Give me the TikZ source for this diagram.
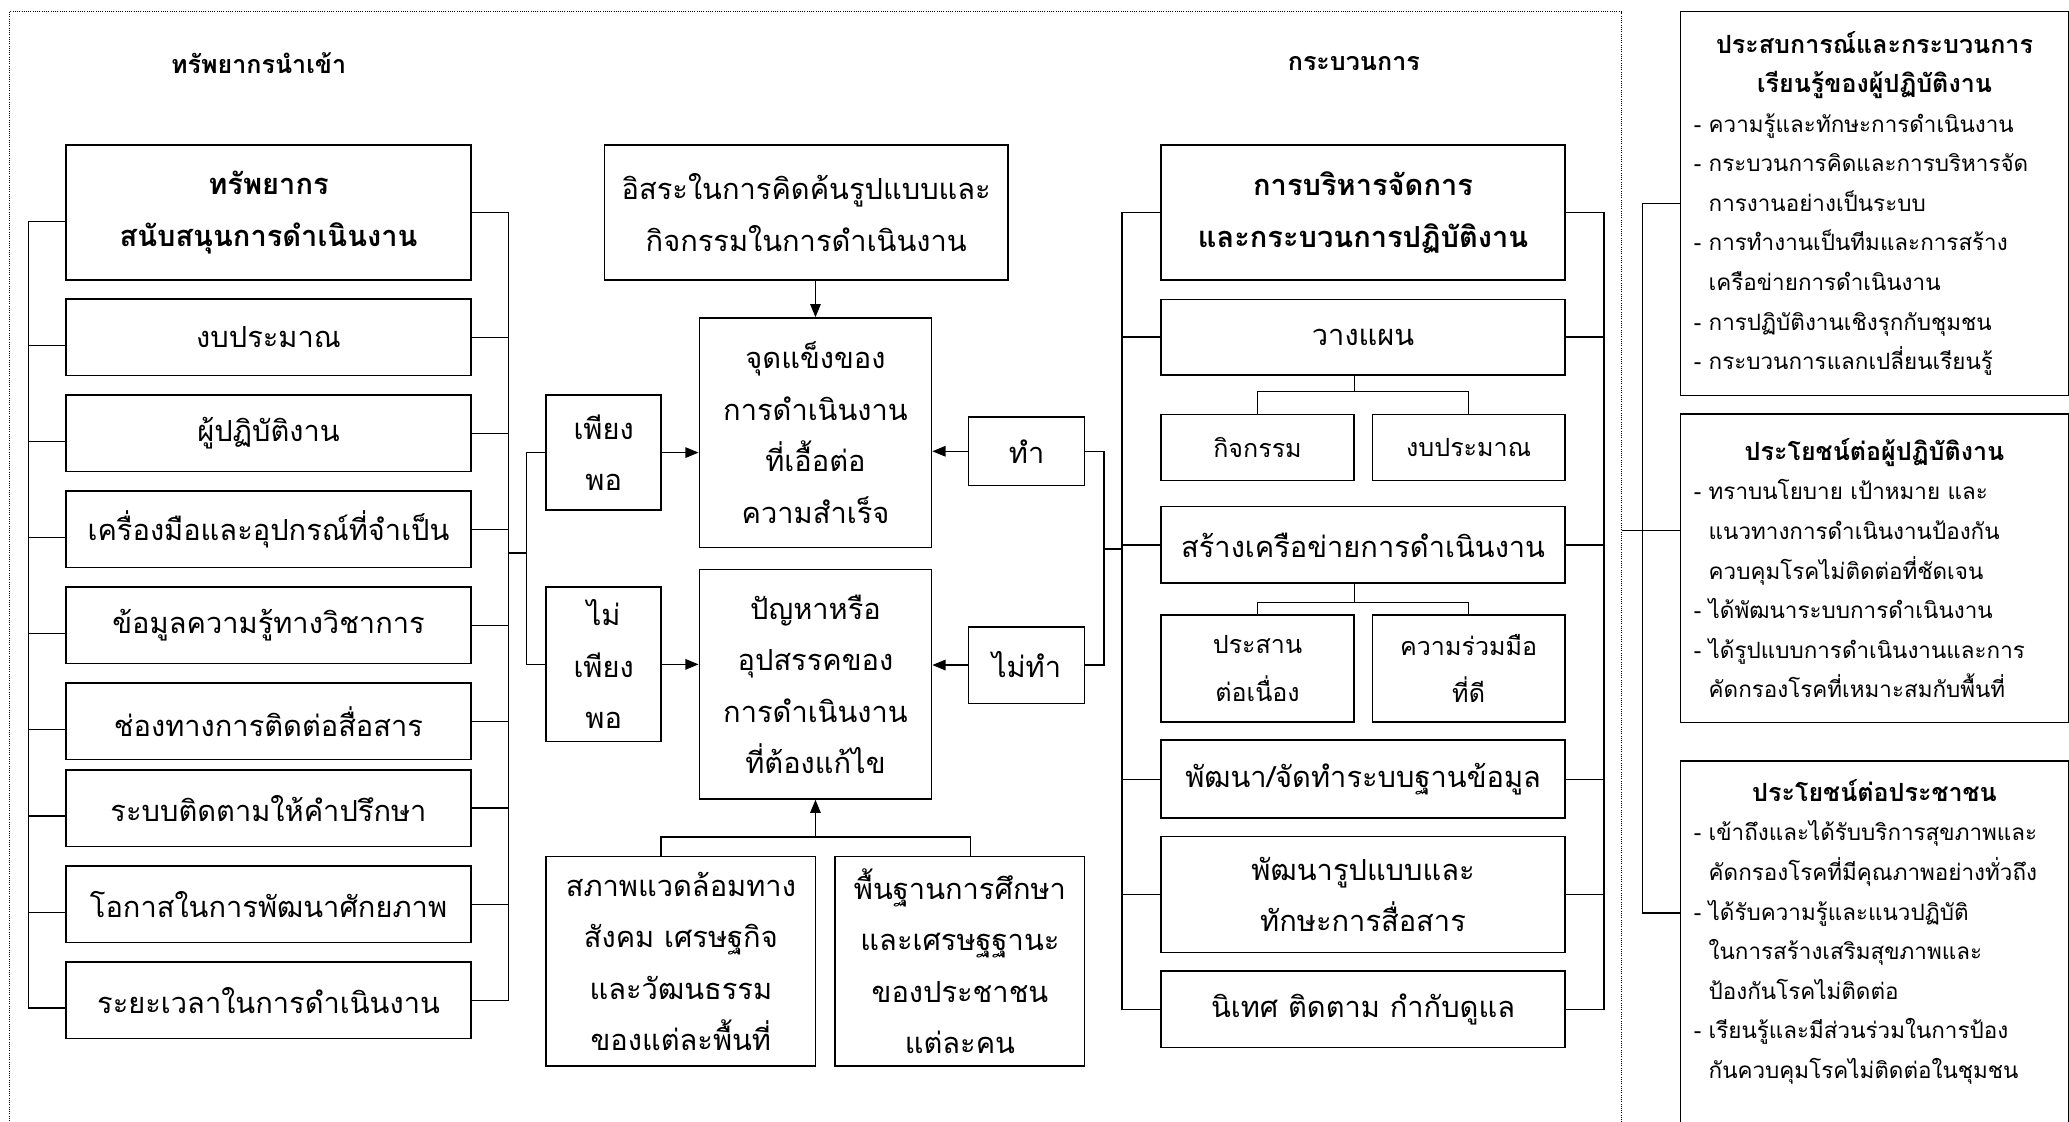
\documentclass[tikz,border=0pt]{standalone}
\usepackage{fontspec}
\setmainfont[Script=Thai]{Loma}
\usetikzlibrary{arrows.meta,positioning,calc}
\newcommand{\mainsz}{\fontsize{22}{39}\selectfont}
\newcommand{\subsz}{\fontsize{19}{36}\selectfont}
\newcommand{\sidesz}{\fontsize{17}{30}\selectfont}
\newcommand{\headsz}{\fontsize{19}{24}\selectfont}

\begin{document}
\begin{tikzpicture}[x=1pt,y=-1pt,
box/.style={draw, line width=1.2pt, align=center, inner sep=0pt, font=\mainsz},
lbox/.style={box, minimum width=307pt, minimum height=58pt},
pbox/.style={box, minimum width=306pt},
sbox/.style={box, minimum width=146pt, font=\subsz},
side/.style={draw, line width=1.2pt, align=left, anchor=north west, text width=274pt, inner xsep=10pt, inner ysep=8pt, font=\sidesz},
sidehead/.style={font=\fontsize{19}{30}\selectfont\bfseries},
link/.style={line width=1pt},
arr/.style={line width=1pt, -{Triangle[length=10pt,width=8pt]}}]
\useasboundingbox (0,0) rectangle (1568,850);
\clip (0,0) rectangle (1568,850);
\draw[densely dotted, line width=0.7pt] (7,9) rectangle (1229,900);

\node[font=\headsz\bfseries] (inTitle) at (196,48) {ทรัพยากรนำเข้า};
\node[font=\headsz\bfseries] (procTitle) at (1026,48) {กระบวนการ};

% input resources
\node[lbox, minimum height=102pt, font=\mainsz\bfseries] (supp) at (203.5,161) {ทรัพยากร\\สนับสนุนการดำเนินงาน};
\node[lbox] (budget) at (203.5,255.7) {งบประมาณ};
\node[lbox] (staff) at (203.5,328.4) {ผู้ปฏิบัติงาน};
\node[lbox] (tools) at (203.5,401.2) {เครื่องมือและอุปกรณ์ที่จำเป็น};
\node[lbox] (info) at (203.5,473.9) {ข้อมูลความรู้ทางวิชาการ};
\node[lbox] (chan) at (203.5,546.7) {ช่องทางการติดต่อสื่อสาร};
\node[lbox] (monit) at (203.5,612.4) {ระบบติดตามให้คำปรึกษา};
\node[lbox] (chance) at (203.5,685.4) {โอกาสในการพัฒนาศักยภาพ};
\node[lbox] (dur) at (203.5,758) {ระยะเวลาในการดำเนินงาน};

\draw[link] ([yshift=-7pt]supp.west) -- ++(-28,0) |- ([yshift=-6pt]dur.west);
\draw[link] ([yshift=-6pt]budget.west) -- ++(-28,0);
\draw[link] ([yshift=-6pt]staff.west) -- ++(-28,0);
\draw[link] ([yshift=-6pt]tools.west) -- ++(-28,0);
\draw[link] ([yshift=-6pt]info.west) -- ++(-28,0);
\draw[link] ([yshift=-6pt]chan.west) -- ++(-28,0);
\draw[link] ([yshift=-6pt]monit.west) -- ++(-28,0);
\draw[link] ([yshift=-6pt]chance.west) -- ++(-28,0);
\draw[link] (supp.east) -- ++(28,0) |- (dur.east);
\draw[link] (budget.east) -- ++(28,0);
\draw[link] (staff.east) -- ++(28,0);
\draw[link] (tools.east) -- ++(28,0);
\draw[link] (info.east) -- ++(28,0);
\draw[link] (chan.east) -- ++(28,0);
\draw[link] (monit.east) -- ++(28,0);
\draw[link] (chance.east) -- ++(28,0);

% middle
\node[box, minimum width=306pt, minimum height=102pt] (free) at (611,161) {อิสระในการคิดค้นรูปแบบและ\\กิจกรรมในการดำเนินงาน};
\node[box, minimum width=176pt, minimum height=174pt] (strength) at (618,328) {จุดแข็งของ\\การดำเนินงาน\\ที่เอื้อต่อ\\ความสำเร็จ};
\node[box, minimum width=176pt, minimum height=174pt] (problem) at (618,518.5) {ปัญหาหรือ\\อุปสรรคของ\\การดำเนินงาน\\ที่ต้องแก้ไข};
\node[box, minimum width=87pt, minimum height=87pt] (enough) at (457.5,343) {เพียง\\พอ};
\node[box, minimum width=87pt, minimum height=117pt] (short) at (457.5,503.5) {ไม่\\เพียง\\พอ};
\node[box, minimum width=88pt, minimum height=52pt] (doit) at (778,342) {ทำ};
\node[box, minimum width=88pt, minimum height=58pt] (notdo) at (778,504) {ไม่ทำ};
\node[box, minimum width=204pt, minimum height=159pt] (env) at (516,728.5) {สภาพแวดล้อมทาง\\สังคม เศรษฐกิจ\\และวัฒนธรรม\\ของแต่ละพื้นที่};
\node[box, minimum width=189pt, minimum height=159pt] (base) at (727.5,728.5) {พื้นฐานการศึกษา\\และเศรษฐฐานะ\\ของประชาชน\\แต่ละคน};

\coordinate (inJoin) at (385,419);
\draw[link] (inJoin) -- ++(14,0) coordinate (inSplit);
\draw[link] (enough.west) -| (inSplit) |- (short.west);
\draw[arr] (enough.east) -- (enough.east -| strength.west);
\draw[arr] (short.east) -- (short.east -| problem.west);
\draw[arr] (doit.west) -- (doit.west -| strength.east);
\draw[arr] (notdo.west) -- (notdo.west -| problem.east);
\draw[arr] (free.south -| strength.north) -- (strength.north);
\draw[link] ([xshift=-15pt]env.north) -- ++(0,-14) -| ([xshift=8pt]base.north);
\draw[arr] ([yshift=14pt]env.north -| problem.south) -- (problem.south);

% process
\node[pbox, minimum height=102pt, font=\mainsz\bfseries] (mgmt) at (1033,161) {การบริหารจัดการ\\และกระบวนการปฏิบัติงาน};
\node[pbox, minimum height=57pt] (plan) at (1033,255.5) {วางแผน};
\node[sbox, minimum height=50pt] (act) at (953,339) {กิจกรรม};
\node[sbox, minimum height=50pt] (pbudget) at (1113,339) {งบประมาณ};
\node[pbox, minimum height=58pt] (net) at (1033,413) {สร้างเครือข่ายการดำเนินงาน};
\node[sbox, minimum height=81pt] (coord) at (953,506.5) {ประสาน\\ต่อเนื่อง};
\node[sbox, minimum height=81pt] (coop) at (1113,506.5) {ความร่วมมือ\\ที่ดี};
\node[pbox, minimum height=59pt] (db) at (1033,590.5) {พัฒนา/จัดทำระบบฐานข้อมูล};
\node[pbox, minimum height=88pt] (comm) at (1033,678) {พัฒนารูปแบบและ\\ทักษะการสื่อสาร};
\node[pbox, minimum height=58pt] (super) at (1033,765) {นิเทศ ติดตาม กำกับดูแล};

\draw[link] (doit.east) -- ++(14,0) |- (notdo.east);
\coordinate (doJoin) at (836,416);
\draw[link] (doJoin) -- ++(15,0);
\draw[link] (mgmt.west) -- ++(-29,0) |- (super.west);
\draw[link] (plan.west) -- ++(-29,0);
\draw[link] (net.west) -- ++(-29,0);
\draw[link] (db.west) -- ++(-29,0);
\draw[link] (comm.west) -- ++(-29,0);
\draw[link] (mgmt.east) -- ++(29,0) |- (super.east);
\draw[link] (plan.east) -- ++(29,0);
\draw[link] (net.east) -- ++(29,0);
\draw[link] (db.east) -- ++(29,0);
\draw[link] (comm.east) -- ++(29,0);
\draw[link] (plan.south -| act.east) -- ++(0,12) coordinate (planJ);
\draw[link] (act.north) |- (planJ) -| (pbudget.north);
\draw[link] (net.south -| coord.east) -- ++(0,14) coordinate (netJ);
\draw[link] (coord.north) |- (netJ) -| (coop.north);

% outcomes
\node[side, minimum height=291pt] (exp) at (1273,8) {{\centering\fontsize{19}{30}\selectfont\bfseries ประสบการณ์และกระบวนการ\\เรียนรู้ของผู้ปฏิบัติงาน\par}
-~ความรู้และทักษะการดำเนินงาน\\
-~กระบวนการคิดและการบริหารจัด\\
\phantom{-~}การงานอย่างเป็นระบบ\\
-~การทำงานเป็นทีมและการสร้าง\\
\phantom{-~}เครือข่ายการดำเนินงาน\\
-~การปฏิบัติงานเชิงรุกกับชุมชน\\
-~กระบวนการแลกเปลี่ยนเรียนรู้};
\node[side, minimum height=234pt] (benS) at (1273,313) {{\centering\fontsize{19}{30}\selectfont\bfseries ประโยชน์ต่อผู้ปฏิบัติงาน\par}
-~ทราบนโยบาย เป้าหมาย และ\\
\phantom{-~}แนวทางการดำเนินงานป้องกัน\\
\phantom{-~}ควบคุมโรคไม่ติดต่อที่ชัดเจน\\
-~ได้พัฒนาระบบการดำเนินงาน\\
-~ได้รูปแบบการดำเนินงานและการ\\
\phantom{-~}คัดกรองโรคที่เหมาะสมกับพื้นที่};
\node[side, inner ysep=14pt, text depth=280pt] (benP) at (1273,576) {{\centering\fontsize{19}{30}\selectfont\bfseries ประโยชน์ต่อประชาชน\par}
-~เข้าถึงและได้รับบริการสุขภาพและ\\
\phantom{-~}คัดกรองโรคที่มีคุณภาพอย่างทั่วถึง\\
-~ได้รับความรู้และแนวปฏิบัติ\\
\phantom{-~}ในการสร้างเสริมสุขภาพและ\\
\phantom{-~}ป้องกันโรคไม่ติดต่อ\\
-~เรียนรู้และมีส่วนร่วมในการป้อง\\
\phantom{-~}กันควบคุมโรคไม่ติดต่อในชุมชน};

\coordinate (frameE) at (1229,402);
\draw[link] (frameE) -- (frameE -| benS.west);
\draw[link] (exp.west) -- ++(-28,0) |- ([yshift=-116pt]benP.north west);
\end{tikzpicture}
\end{document}
